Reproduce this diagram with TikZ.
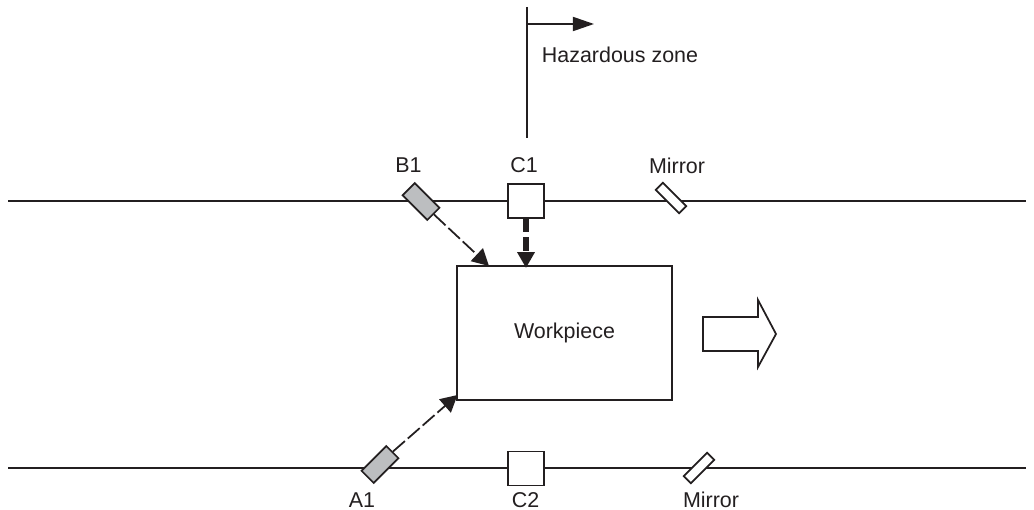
\documentclass[tikz,border=0pt]{standalone}
\usepackage{fontspec}
\setmainfont{Liberation Sans}
\usetikzlibrary{arrows.meta}
\definecolor{ink}{HTML}{231F20}
\definecolor{sensor}{HTML}{BCBEC0}
\tikzset{
  rail/.style={ink, line width=1pt},
  squarebox/.style={draw=ink, fill=white, line width=1pt, minimum width=0.72cm, minimum height=0.68cm, inner sep=0pt},
  lightbox/.style={draw=ink, fill=sensor, line width=1pt, minimum width=0.7cm, minimum height=0.34cm, inner sep=0pt},
  mirrorbox/.style={draw=ink, fill=white, line width=1pt, minimum width=0.66cm, minimum height=0.2cm, inner sep=0pt},
  beam/.style={ink, line width=1pt, dash pattern=on 9pt off 2.2pt, -{Triangle[length=9.5pt, width=10pt]}},
  thickbeam/.style={ink, line width=3pt, dash pattern=on 7.5pt off 3pt, -{Triangle[length=9pt, width=9.5pt]}},
  label/.style={inner sep=0pt, text depth=0pt, font=\fontsize{12.2}{14}\selectfont, text=ink}
}
\begin{document}
\begin{tikzpicture}[x=0.02cm, y=-0.02cm]
    \useasboundingbox (0,0) rectangle (1034,510);
    % rails first, boxes sit on top of them
    \coordinate (topleft) at (8,201);
    \coordinate (topright) at (1026,201);
    \coordinate (botleft) at (8,468);
    \coordinate (botright) at (1026,468);
    \draw[rail] (topleft) -- (topright);
    \draw[rail] (botleft) -- (botright);
    \node[squarebox] (cone) at (526,201) {};
    \node[squarebox] (ctwo) at (526,468.5) {};
    \node[lightbox, rotate=-45] (bone) at (421,201.5) {};
    \node[lightbox, rotate=45] (aone) at (380,464.5) {};
    \node[mirrorbox, rotate=-45] (mirtop) at (671,198) {};
    \node[mirrorbox, rotate=45] (mirbot) at (699,468) {};
    \node[draw=ink, line width=1pt, minimum width=4.3cm, minimum height=2.68cm, inner sep=0pt] (work) at (564.5,333) {};
    \node[label] (lwork) at (564.5,331) {Workpiece};
    % beam ends on the workpiece edge
    \coordinate (btip) at (489,266);
    \coordinate (ctip) at (526,268);
    \coordinate (atip) at (457.5,395);
    \draw[beam] (bone.east) -- (btip);
    \draw[beam] (aone.east) -- (atip);
    \draw[thickbeam] (cone.south) -- (ctip);
    % motion arrow
    \draw[ink, line width=1pt, line join=miter] (703,317) -- (758,317) -- (758,300) -- (776,334) -- (758,367) -- (758,351) -- (703,351) -- cycle;
    % zone boundary
    \coordinate (zonetop) at (527,7);
    \coordinate (zonebot) at (527,138);
    \coordinate (zonefork) at (527,24);
    \coordinate (zonetip) at (594,24);
    \draw[rail] (zonetop) -- (zonebot);
    \draw[ink, line width=1pt, -{Triangle[length=12pt, width=8pt]}] (zonefork) -- (zonetip);
    \node[label] (hazard) at (620,55) {Hazardous zone};
    \node[label] (lbone) at (408.5,165.5) {B1};
    \node[label] (lcone) at (524,165.5) {C1};
    \node[label] (lmirtop) at (677,165.5) {Mirror};
    \node[label] (laone) at (362,500) {A1};
    \node[label] (lctwo) at (525.5,500) {C2};
    \node[label] (lmirbot) at (711,500) {Mirror};
\end{tikzpicture}
\end{document}
